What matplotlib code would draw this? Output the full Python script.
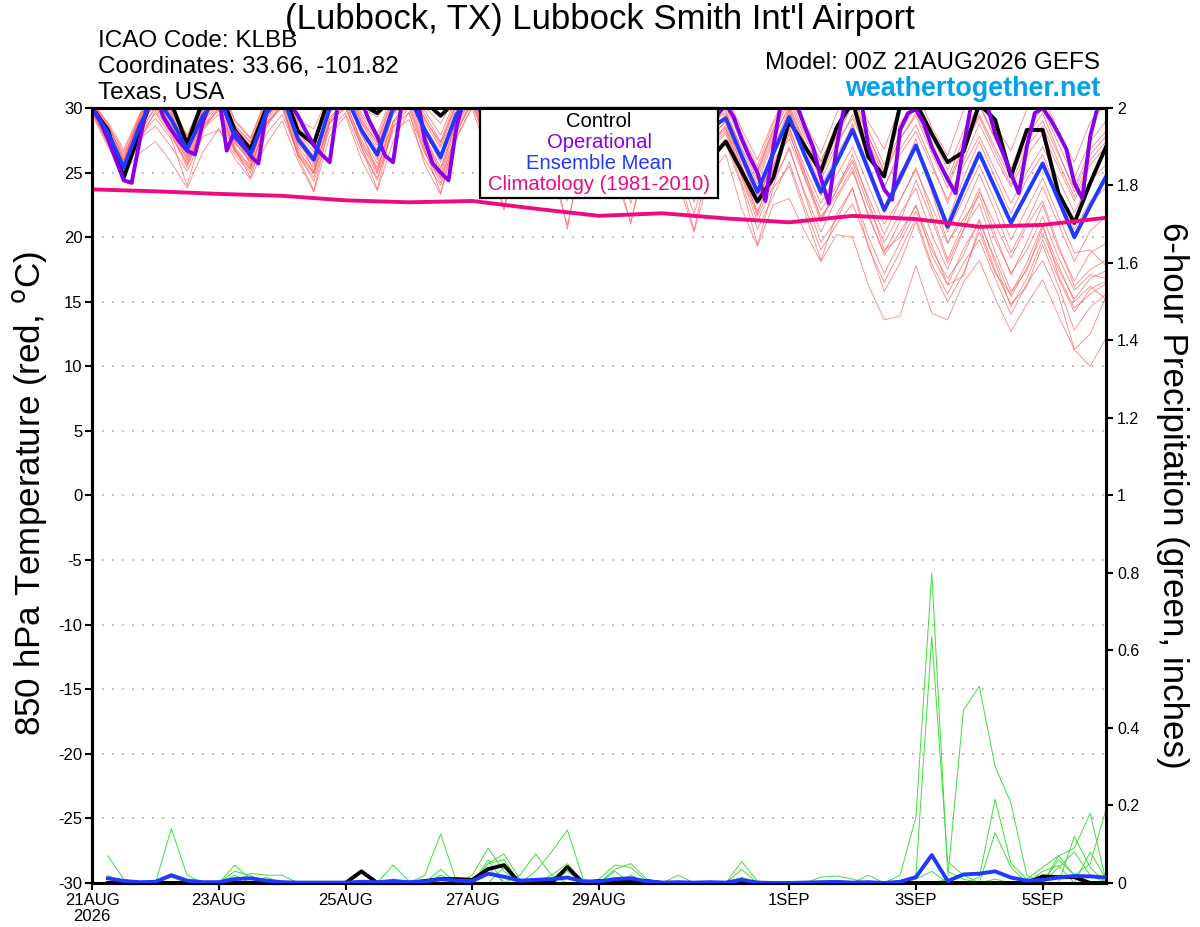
import matplotlib
matplotlib.use("Agg")
import matplotlib.pyplot as plt
from matplotlib.patches import Rectangle
import numpy as np

plt.rcParams['font.family'] = ['Liberation Sans', 'DejaVu Sans']

# forecast hours since 00Z 21AUG2026
hours = np.arange(65) * 6
oper_hours = np.arange(129) * 3
clim_hours = np.arange(17) * 24
precip_hours = np.arange(1, 65) * 6

tick_hours = [0, 48, 96, 144, 192, 264, 312, 360]
tick_labels = ['21AUG\n2026', '23AUG', '25AUG', '27AUG', '29AUG', '1SEP', '3SEP', '5SEP']

# 850 hPa temperature (C)
control_temp = [30.0, 28.3, 24.6, 28.1, 31.5, 30.4, 27.2, 30.6, 31.5, 28.3, 26.8, 30.0,
                31.5, 28.2, 27.2, 31.0, 32.0, 30.3, 29.6, 30.8, 32.0, 30.5, 29.4, 30.6,
                32.0, 29.5, 27.0, 30.0, 31.0, 28.5, 26.0, 29.0, 30.5, 27.5, 25.5, 28.5,
                29.8, 27.0, 25.0, 26.0, 27.4, 25.1, 22.75, 24.6, 29.0, 27.0, 25.1, 28.5,
                30.5, 26.2, 24.7, 30.2, 30.4, 28.0, 25.8, 26.6, 30.3, 29.1, 24.7, 28.3,
                28.3, 23.4, 21.1, 24.2, 27.0]

mean_temp = [30.0, 28.1, 25.4, 28.6, 31.0, 29.1, 26.8, 29.4, 31.0, 27.8, 26.4, 29.6,
             31.0, 27.6, 26.0, 30.0, 31.0, 28.3, 26.4, 30.0, 31.0, 28.3, 26.2, 29.5,
             31.0, 28.6, 26.3, 29.6, 30.8, 28.2, 25.8, 29.0, 30.5, 27.9, 25.6, 28.8,
             30.2, 27.6, 25.3, 28.4, 29.2, 26.3, 23.5, 26.5, 29.3, 26.3, 23.5, 25.8,
             28.3, 25.2, 22.1, 24.6, 27.1, 24.0, 20.8, 23.7, 26.5, 23.8, 21.1, 23.4,
             25.7, 22.9, 20.0, 22.4, 24.7]

oper_temp = [30.0, 29.0, 27.6, 26.0, 24.4, 24.2, 27.4, 30.4,
             31.0, 29.3, 28.3, 27.4, 26.7, 26.4, 28.9, 30.6,
             31.0, 26.7, 28.2, 27.3, 26.3, 25.7, 29.8, 31.0,
             31.5, 30.3, 29.4, 28.2, 27.1, 26.4, 25.8, 30.2,
             31.5, 31.5, 30.5, 29.0, 27.8, 26.3, 25.8, 30.0,
             31.5, 31.0, 27.5, 25.7, 25.0, 24.4, 28.5, 30.8,
             31.5, 30.5, 29.0, 27.5, 26.5, 25.8, 28.0, 30.5,
             31.5, 30.0, 28.5, 27.0, 26.0, 25.5, 27.5, 30.0,
             31.0, 30.0, 28.5, 27.2, 26.0, 25.4, 27.0, 29.5,
             31.0, 29.8, 28.2, 26.8, 25.8, 25.2, 27.0, 29.5,
             30.3, 29.3, 27.6, 26.2, 25.0, 22.8, 27.0, 30.5,
             31.0, 30.2, 28.5, 27.0, 24.6, 22.6, 27.0, 30.3,
             31.5, 31.0, 27.0, 25.3, 23.7, 22.9, 28.3, 29.6,
             29.9, 28.8, 27.0, 25.7, 24.5, 23.4, 27.0, 30.3,
             31.0, 30.2, 28.0, 26.5, 24.9, 23.4, 27.0, 29.6,
             30.0, 29.1, 28.0, 26.8, 24.2, 23.0, 27.8, 30.2,
             31.0]

clim_temp = [23.7, 23.55, 23.35, 23.2, 22.85, 22.7, 22.8, 22.2, 21.65,
             21.85, 21.45, 21.15, 21.65, 21.4, 20.8, 20.95, 21.5]

member_temp = [
    [30.2, 28.9, 26.8, 29.5, 31.8, 30.2, 27.9, 30.6, 32.0, 29.0, 27.6, 30.8, 32.2, 28.8, 27.5, 31.0,
     32.0, 29.6, 28.0, 31.2, 32.3, 29.8, 27.9, 30.9, 32.5, 30.0, 27.9, 31.0, 32.4, 29.9, 27.6, 30.8,
     32.0, 29.5, 27.3, 30.4, 31.8, 29.2, 27.1, 30.1, 31.0, 28.4, 26.0, 29.0, 31.5, 28.8, 26.5, 29.6,
     31.6, 28.9, 26.8, 30.2, 31.4, 28.5, 26.3, 29.8, 31.2, 28.6, 26.7, 29.9, 31.0, 28.2, 25.8, 28.9, 30.3],
    [29.8, 27.5, 24.4, 27.8, 29.2, 27.6, 24.0, 28.2, 30.1, 26.9, 24.6, 28.5, 30.4, 26.2, 23.6, 28.9,
     30.0, 27.0, 23.7, 28.8, 30.2, 26.8, 23.4, 28.4, 30.5, 27.3, 22.2, 28.5, 29.8, 26.5, 20.6, 27.4,
     29.3, 25.8, 21.0, 27.0, 28.9, 25.1, 20.5, 26.4, 27.2, 24.0, 19.4, 23.8, 25.5, 21.9, 18.2, 21.8,
     23.8, 19.2, 16.5, 18.9, 21.5, 17.9, 15.6, 18.0, 19.8, 16.8, 14.0, 16.4, 18.2, 15.5, 11.3, 10.0, 12.2],
    [29.5, 27.0, 25.0, 26.5, 27.4, 25.8, 23.8, 26.6, 28.4, 26.1, 24.5, 27.2, 29.0, 25.9, 23.5, 27.8,
     29.4, 26.0, 23.6, 27.4, 29.7, 25.6, 23.3, 27.8, 30.0, 26.2, 22.1, 27.0, 29.3, 25.2, 20.9, 26.5,
     28.6, 24.7, 21.2, 25.8, 28.0, 24.2, 20.4, 24.9, 26.4, 22.2, 19.3, 22.5, 23.0, 20.4, 18.1, 20.2,
     20.0, 16.3, 13.6, 13.9, 17.8, 14.1, 13.6, 16.5, 18.2, 15.3, 12.7, 14.8, 16.7, 13.9, 11.3, 12.5, 15.4],
    [30.5, 28.4, 25.8, 29.0, 31.2, 29.5, 27.0, 29.8, 31.4, 28.2, 26.8, 30.0, 31.5, 28.0, 26.2, 30.4,
     31.4, 28.8, 26.8, 30.3, 31.6, 28.6, 26.5, 29.8, 31.3, 28.9, 26.6, 29.9, 31.0, 28.5, 26.2, 29.4,
     30.8, 28.1, 25.9, 29.1, 30.5, 27.8, 25.5, 28.6, 29.8, 26.8, 24.1, 27.5, 30.2, 27.3, 24.4, 27.0,
     29.5, 26.6, 23.8, 26.8, 28.7, 25.8, 22.6, 25.9, 28.8, 26.2, 23.9, 26.3, 28.0, 25.4, 22.8, 25.6, 27.0],
    [30.0, 27.8, 25.0, 28.2, 30.6, 28.7, 26.2, 28.9, 30.8, 27.4, 25.9, 29.2, 30.9, 27.0, 25.4, 29.6,
     31.0, 27.9, 25.7, 29.5, 30.8, 27.7, 25.4, 29.0, 31.1, 28.1, 25.5, 29.1, 30.5, 27.6, 24.8, 28.4,
     30.0, 27.2, 24.5, 28.0, 29.6, 26.8, 24.0, 27.6, 28.5, 25.0, 22.0, 24.8, 28.0, 24.9, 22.1, 24.0,
     26.0, 23.1, 20.2, 22.8, 25.4, 21.8, 18.3, 21.0, 23.8, 20.2, 17.1, 19.6, 22.5, 19.1, 16.6, 18.8, 19.5],
    [30.3, 28.6, 26.2, 29.2, 31.5, 29.8, 27.4, 30.1, 31.2, 28.5, 27.1, 30.3, 31.8, 28.4, 26.9, 30.7,
     31.7, 29.2, 27.3, 30.8, 31.9, 29.2, 27.1, 30.4, 31.8, 29.4, 27.2, 30.5, 31.6, 29.1, 26.9, 30.1,
     31.3, 28.8, 26.6, 29.8, 31.0, 28.5, 26.3, 29.4, 30.4, 27.6, 25.1, 28.3, 30.8, 28.0, 25.3, 27.9,
     30.4, 27.8, 25.0, 27.6, 29.6, 26.9, 24.2, 27.0, 29.5, 26.9, 24.6, 27.4, 29.0, 26.4, 23.8, 26.8, 28.2],
    [29.9, 27.4, 24.8, 27.6, 28.6, 27.0, 25.1, 27.8, 28.3, 26.4, 25.0, 28.0, 29.5, 26.5, 24.3, 28.4,
     29.6, 26.6, 24.6, 28.2, 29.1, 26.0, 24.0, 27.6, 30.2, 27.0, 24.2, 28.1, 30.1, 26.9, 23.8, 27.8,
     29.8, 26.5, 23.4, 27.5, 29.5, 26.2, 23.1, 27.0, 28.7, 25.5, 22.6, 26.0, 27.6, 24.5, 21.2, 23.7,
     25.8, 22.4, 19.6, 21.8, 23.8, 20.2, 17.5, 20.5, 23.5, 21.0, 18.4, 20.9, 22.8, 19.4, 16.2, 17.5, 18.2],
    [30.6, 28.8, 26.0, 29.4, 32.0, 30.0, 27.8, 30.4, 32.3, 29.1, 27.7, 30.6, 32.4, 29.0, 28.4, 31.2,
     32.5, 30.0, 29.3, 31.3, 32.6, 30.1, 28.8, 31.1, 32.4, 29.8, 27.5, 30.8, 32.0, 29.4, 27.0, 30.2,
     31.5, 28.9, 26.8, 29.8, 31.2, 28.6, 26.4, 29.5, 30.6, 27.8, 25.2, 28.4, 31.2, 28.5, 25.8, 28.6,
     30.8, 27.8, 25.1, 28.1, 30.2, 27.1, 24.5, 27.6, 30.4, 27.6, 25.0, 27.8, 29.6, 26.6, 23.5, 26.4, 27.8],
    [30.1, 28.0, 25.6, 28.7, 30.8, 29.0, 26.6, 29.3, 30.6, 27.6, 26.0, 29.4, 31.0, 27.2, 25.8, 29.9,
     31.2, 28.4, 26.2, 29.9, 31.0, 28.2, 26.0, 29.3, 31.3, 28.5, 25.9, 29.3, 30.7, 27.9, 25.2, 28.6,
     30.1, 27.4, 24.9, 28.2, 29.8, 27.0, 24.6, 27.8, 28.9, 25.9, 23.0, 25.6, 28.4, 25.4, 22.6, 24.8,
     27.0, 24.0, 21.0, 22.9, 25.2, 22.4, 19.5, 22.0, 24.9, 22.0, 18.8, 21.2, 23.9, 21.0, 18.1, 20.5, 21.6],
    [30.4, 28.3, 25.3, 28.5, 31.4, 29.6, 26.9, 29.9, 31.8, 28.0, 25.6, 29.7, 31.6, 27.8, 25.1, 30.2,
     31.3, 28.2, 25.0, 29.6, 31.4, 28.0, 24.8, 29.2, 31.6, 28.4, 25.0, 29.4, 31.0, 27.8, 24.4, 28.8,
     30.6, 27.2, 23.8, 28.3, 30.2, 26.8, 23.2, 27.8, 29.4, 26.0, 22.8, 26.2, 29.8, 26.4, 23.2, 25.6,
     28.8, 25.4, 22.2, 24.8, 27.6, 23.5, 19.6, 21.4, 23.2, 19.8, 17.2, 19.0, 21.6, 18.4, 15.9, 17.1, 16.8],
    [29.7, 27.2, 24.6, 27.4, 29.8, 28.0, 25.4, 28.4, 29.5, 26.6, 25.2, 28.7, 30.2, 26.4, 24.9, 29.1,
     30.6, 27.3, 25.2, 29.0, 30.4, 27.0, 24.6, 28.6, 30.8, 27.6, 24.4, 28.7, 30.3, 27.1, 23.5, 28.0,
     29.9, 26.6, 23.2, 27.6, 29.3, 26.0, 22.7, 27.0, 28.2, 24.8, 21.6, 24.4, 26.8, 23.4, 20.4, 23.0,
     25.1, 21.8, 18.6, 20.4, 22.4, 19.4, 16.3, 19.1, 21.2, 18.3, 15.4, 17.6, 20.3, 17.5, 15.2, 16.8, 17.4],
    [30.0, 28.5, 26.4, 29.0, 31.0, 29.3, 27.2, 29.6, 31.3, 28.3, 26.9, 29.9, 31.3, 28.1, 26.6, 30.0,
     31.5, 28.9, 27.1, 30.3, 31.3, 28.9, 26.9, 30.1, 31.5, 29.0, 26.8, 30.0, 31.2, 28.7, 26.4, 29.6,
     30.9, 28.4, 26.2, 29.3, 30.6, 28.0, 25.8, 28.9, 29.6, 26.9, 24.5, 27.8, 30.0, 27.2, 24.8, 27.4,
     29.2, 26.5, 23.9, 26.4, 28.2, 25.5, 22.9, 25.5, 27.8, 25.2, 22.6, 25.0, 27.0, 24.5, 21.9, 24.4, 25.6],
    [29.8, 27.6, 25.2, 28.0, 30.2, 28.4, 25.9, 28.6, 30.2, 27.0, 25.4, 29.0, 30.6, 26.8, 25.0, 29.3,
     30.4, 27.5, 25.4, 28.9, 30.6, 27.4, 25.2, 28.8, 30.9, 27.8, 25.1, 28.8, 30.4, 27.2, 24.2, 28.2,
     29.7, 26.6, 23.8, 27.8, 29.4, 26.2, 23.5, 27.2, 28.4, 25.2, 21.8, 25.4, 28.6, 25.0, 21.4, 23.6,
     26.4, 22.8, 19.0, 20.0, 22.5, 18.6, 16.3, 17.0, 20.8, 17.4, 14.8, 16.2, 19.4, 16.2, 12.8, 14.6, 15.6],
    [30.2, 28.2, 25.5, 28.8, 30.9, 29.2, 26.4, 29.2, 30.9, 27.8, 26.1, 29.5, 31.2, 27.5, 25.6, 29.8,
     31.1, 28.3, 26.0, 29.7, 31.1, 28.2, 25.8, 29.4, 31.4, 28.6, 25.7, 29.5, 31.1, 28.1, 25.2, 29.0,
     30.7, 27.8, 25.0, 28.7, 30.3, 27.4, 24.6, 28.3, 29.5, 26.5, 23.6, 26.9, 29.9, 26.9, 23.9, 26.3,
     28.6, 25.6, 22.4, 25.0, 26.8, 23.6, 20.4, 23.0, 25.6, 22.8, 19.8, 22.2, 24.6, 21.6, 18.8, 19.0, 17.8],
    [30.1, 28.1, 25.9, 28.9, 30.4, 28.6, 26.0, 29.0, 30.3, 27.3, 25.8, 29.2, 30.8, 27.3, 26.0, 29.7,
     31.0, 28.1, 26.2, 29.6, 31.0, 28.0, 26.1, 29.1, 31.1, 28.2, 25.6, 29.1, 30.6, 27.5, 24.6, 28.5,
     30.1, 27.0, 24.2, 28.0, 29.9, 26.8, 24.0, 27.6, 29.0, 25.5, 22.7, 25.2, 28.2, 24.6, 21.6, 23.2,
     25.4, 21.6, 18.8, 21.2, 24.4, 21.4, 18.0, 20.6, 22.6, 18.8, 15.8, 17.4, 20.8, 17.8, 15.0, 16.2, 15.2],
    [30.3, 28.4, 26.0, 29.1, 31.6, 29.9, 27.6, 30.3, 31.7, 28.7, 27.3, 30.5, 32.0, 28.6, 27.1, 30.9,
     31.9, 29.4, 27.6, 31.0, 32.0, 29.5, 27.4, 30.7, 32.0, 29.6, 27.3, 30.7, 31.8, 29.3, 27.0, 30.3,
     31.5, 29.0, 26.8, 30.0, 31.3, 28.8, 26.5, 29.7, 30.7, 28.0, 25.5, 28.8, 31.0, 28.4, 25.9, 28.6,
     30.9, 28.3, 25.6, 28.8, 30.4, 27.8, 25.2, 28.2, 30.2, 27.6, 25.3, 28.3, 30.0, 27.2, 24.6, 27.4, 29.0],
    [29.9, 27.7, 25.1, 28.1, 30.0, 28.2, 25.6, 28.5, 29.9, 26.8, 25.5, 28.8, 30.3, 26.6, 25.0, 29.0,
     30.2, 27.2, 24.9, 28.6, 29.6, 26.5, 24.5, 28.0, 30.6, 27.5, 24.8, 28.6, 30.2, 27.0, 24.0, 28.0,
     29.6, 26.5, 23.6, 27.5, 29.2, 26.0, 23.0, 26.8, 28.0, 24.6, 21.2, 24.0, 27.0, 23.2, 19.6, 21.4,
     23.8, 20.0, 17.2, 19.6, 22.0, 19.0, 16.8, 18.6, 21.4, 18.0, 14.6, 16.8, 19.8, 16.8, 14.2, 16.0, 16.6],
    [30.5, 28.7, 26.6, 29.3, 31.3, 29.7, 27.5, 30.0, 31.5, 28.6, 27.4, 30.2, 31.7, 28.3, 27.2, 30.6,
     31.8, 29.0, 27.4, 30.6, 31.7, 29.1, 27.3, 30.3, 31.9, 29.2, 27.1, 30.3, 31.5, 28.9, 26.7, 29.9,
     31.1, 28.6, 26.4, 29.6, 30.8, 28.3, 26.1, 29.2, 30.1, 27.4, 24.9, 28.1, 30.5, 27.7, 25.1, 27.8,
     30.2, 27.4, 24.7, 27.6, 29.4, 26.5, 23.8, 26.9, 29.3, 26.6, 24.1, 27.0, 28.6, 25.8, 23.1, 26.0, 27.4],
    [29.6, 27.3, 24.9, 27.9, 29.6, 27.8, 25.7, 28.6, 29.8, 26.7, 25.3, 28.8, 30.0, 26.3, 24.6, 28.8,
     30.1, 27.0, 24.4, 28.5, 30.0, 26.6, 24.2, 28.2, 30.4, 27.1, 23.6, 28.0, 29.9, 26.4, 22.8, 27.3,
     29.3, 25.9, 22.6, 26.7, 28.6, 25.2, 21.8, 26.1, 27.6, 24.2, 20.6, 23.2, 25.8, 22.3, 19.0, 21.0,
     22.6, 19.4, 15.8, 18.0, 21.2, 17.6, 15.0, 17.2, 20.4, 17.2, 15.6, 18.0, 21.0, 17.0, 14.5, 15.6, 16.4],
    [30.2, 28.0, 25.7, 28.6, 30.6, 28.9, 26.4, 29.1, 30.7, 27.5, 26.2, 29.3, 31.1, 27.4, 25.9, 29.8,
     31.0, 28.0, 26.4, 29.8, 31.2, 28.1, 26.0, 29.6, 31.3, 28.4, 26.1, 29.6, 30.9, 28.0, 25.7, 29.2,
     30.6, 27.7, 25.4, 28.9, 30.2, 27.3, 25.0, 28.5, 29.3, 26.2, 23.2, 26.4, 29.6, 26.4, 23.4, 25.7,
     28.4, 25.1, 21.9, 24.2, 27.0, 24.0, 21.2, 24.6, 27.4, 24.6, 21.8, 24.5, 26.4, 23.4, 20.6, 22.8, 23.8],
]

# 6-hour precipitation (inches), valid at 06h .. 384h
control_precip = [0, 0, 0, 0, 0, 0, 0, 0, 0, 0, 0, 0, 0, 0, 0, 0,
                  0.03, 0, 0, 0, 0.005, 0.01, 0.01, 0.008, 0.036, 0.046, 0, 0, 0, 0.041, 0, 0.005,
                  0.005, 0.005, 0.005, 0, 0, 0, 0, 0, 0, 0, 0, 0, 0, 0, 0, 0,
                  0, 0, 0, 0, 0, 0, 0, 0, 0, 0, 0, 0.017, 0.015, 0.015, 0, 0]

mean_precip = [0.012, 0.005, 0.002, 0.003, 0.02, 0.006, 0.002, 0.002, 0.01, 0.012, 0.006, 0.002, 0.001, 0.001, 0.001, 0.001,
               0.003, 0.002, 0.005, 0.002, 0.004, 0.01, 0.006, 0.005, 0.024, 0.016, 0.006, 0.008, 0.01, 0.014, 0.004, 0.004,
               0.01, 0.012, 0.004, 0.001, 0.002, 0.001, 0.002, 0.001, 0.008, 0.001, 0, 0, 0.001, 0.002, 0.003, 0.001,
               0.002, 0, 0.003, 0.015, 0.072, 0.005, 0.022, 0.024, 0.03, 0.014, 0.006, 0.008, 0.014, 0.018, 0.017, 0.014]

member_precip = [
    [0.07, 0.01, 0, 0, 0, 0, 0, 0, 0, 0, 0, 0, 0, 0, 0, 0,
     0, 0, 0, 0, 0, 0, 0, 0, 0, 0, 0, 0, 0, 0, 0, 0,
     0, 0, 0, 0, 0.02, 0, 0, 0, 0, 0, 0, 0, 0, 0, 0, 0,
     0, 0, 0, 0, 0, 0, 0, 0, 0.13, 0.04, 0, 0, 0, 0, 0, 0],
    [0, 0, 0, 0, 0.14, 0.02, 0, 0, 0, 0, 0, 0, 0, 0, 0, 0,
     0, 0, 0, 0, 0, 0, 0, 0, 0, 0, 0, 0, 0, 0, 0, 0,
     0, 0, 0, 0, 0, 0, 0, 0, 0, 0, 0, 0, 0, 0, 0, 0,
     0, 0, 0, 0, 0, 0, 0, 0, 0, 0, 0.01, 0.04, 0.07, 0.09, 0.18, 0.005],
    [0.02, 0, 0, 0, 0.02, 0, 0, 0, 0.02, 0, 0, 0, 0, 0, 0, 0,
     0, 0, 0, 0, 0, 0.02, 0, 0, 0, 0, 0, 0, 0, 0, 0, 0,
     0, 0, 0, 0, 0, 0, 0, 0, 0, 0, 0, 0, 0, 0, 0, 0,
     0, 0, 0, 0, 0, 0, 0, 0, 0, 0, 0, 0, 0.06, 0.02, 0.05, 0.19],
    [0, 0, 0, 0, 0.015, 0, 0, 0, 0.03, 0.02, 0, 0, 0, 0, 0, 0,
     0, 0, 0, 0, 0, 0, 0, 0, 0.05, 0.06, 0, 0, 0, 0, 0, 0,
     0, 0, 0, 0, 0, 0, 0, 0, 0, 0, 0, 0, 0, 0, 0, 0,
     0, 0, 0, 0, 0, 0, 0, 0, 0, 0, 0, 0, 0, 0.12, 0.04, 0],
    [0, 0, 0, 0, 0, 0, 0, 0, 0.046, 0.01, 0, 0, 0, 0, 0, 0,
     0, 0, 0, 0, 0, 0, 0, 0, 0, 0, 0, 0, 0, 0, 0, 0,
     0, 0, 0, 0, 0, 0, 0, 0, 0.055, 0.005, 0, 0, 0, 0, 0, 0,
     0, 0, 0, 0, 0, 0, 0, 0, 0, 0, 0, 0, 0.07, 0.02, 0, 0],
    [0, 0, 0, 0, 0, 0, 0, 0, 0, 0.025, 0.02, 0.02, 0, 0, 0, 0,
     0, 0, 0, 0, 0, 0, 0, 0, 0, 0, 0, 0, 0, 0, 0, 0,
     0, 0, 0, 0, 0, 0, 0, 0, 0.035, 0, 0, 0, 0, 0, 0, 0,
     0, 0, 0, 0, 0, 0, 0, 0, 0, 0, 0, 0, 0, 0, 0.08, 0.01],
    [0, 0, 0, 0, 0, 0, 0, 0, 0, 0, 0.015, 0, 0, 0, 0, 0,
     0, 0, 0.01, 0, 0, 0, 0, 0, 0.04, 0, 0, 0, 0, 0.03, 0, 0,
     0, 0, 0, 0, 0, 0, 0, 0, 0.015, 0, 0, 0, 0, 0, 0, 0,
     0, 0, 0, 0, 0, 0, 0, 0, 0, 0, 0, 0.03, 0.045, 0, 0, 0],
    [0, 0, 0, 0, 0, 0, 0, 0, 0, 0, 0, 0, 0, 0, 0, 0,
     0, 0, 0.046, 0.005, 0, 0, 0, 0, 0, 0.04, 0, 0, 0.02, 0, 0, 0,
     0, 0.02, 0, 0, 0, 0, 0, 0, 0, 0, 0, 0, 0, 0, 0, 0,
     0, 0, 0, 0, 0, 0, 0, 0, 0, 0, 0, 0, 0, 0, 0, 0],
    [0, 0, 0, 0, 0, 0, 0, 0, 0, 0, 0, 0, 0, 0, 0, 0,
     0, 0, 0, 0, 0.02, 0.126, 0.005, 0, 0, 0, 0, 0, 0, 0, 0, 0,
     0, 0, 0, 0, 0, 0, 0, 0, 0, 0, 0, 0, 0, 0, 0, 0,
     0, 0, 0, 0, 0, 0, 0, 0, 0.01, 0, 0, 0, 0, 0, 0, 0],
    [0, 0, 0, 0, 0, 0, 0, 0, 0, 0, 0, 0, 0, 0, 0, 0,
     0, 0, 0, 0, 0, 0.035, 0, 0, 0.06, 0, 0, 0, 0, 0, 0, 0,
     0, 0, 0, 0, 0, 0, 0, 0, 0, 0, 0, 0, 0, 0.015, 0.018, 0.01,
     0, 0, 0, 0, 0, 0, 0, 0, 0, 0, 0, 0, 0, 0, 0, 0],
    [0, 0, 0, 0, 0, 0, 0, 0, 0, 0, 0, 0, 0, 0, 0, 0,
     0, 0, 0, 0, 0, 0, 0, 0.02, 0.09, 0.03, 0, 0, 0, 0, 0, 0,
     0, 0, 0, 0, 0, 0, 0, 0, 0, 0, 0, 0, 0, 0, 0, 0,
     0.02, 0, 0, 0, 0, 0, 0, 0, 0, 0, 0, 0, 0, 0, 0, 0],
    [0, 0, 0, 0, 0, 0, 0, 0, 0, 0, 0, 0, 0, 0, 0, 0,
     0, 0, 0, 0, 0, 0, 0, 0, 0.05, 0.075, 0.01, 0, 0, 0, 0, 0,
     0.03, 0, 0, 0, 0, 0, 0, 0, 0, 0, 0, 0, 0, 0, 0, 0,
     0, 0, 0, 0, 0, 0, 0, 0, 0, 0, 0, 0, 0, 0, 0, 0],
    [0, 0, 0, 0, 0, 0, 0, 0, 0, 0, 0, 0, 0, 0, 0, 0,
     0, 0, 0, 0, 0, 0, 0, 0, 0, 0, 0.02, 0.075, 0.02, 0.05, 0, 0,
     0, 0, 0, 0, 0, 0, 0, 0, 0, 0, 0, 0, 0, 0, 0, 0,
     0, 0, 0, 0, 0, 0, 0, 0, 0, 0, 0, 0, 0, 0, 0, 0],
    [0, 0, 0, 0, 0, 0, 0, 0, 0, 0, 0, 0, 0, 0, 0, 0,
     0, 0, 0, 0, 0, 0, 0, 0, 0, 0, 0, 0.03, 0.08, 0.137, 0.01, 0,
     0, 0, 0, 0, 0, 0, 0, 0, 0, 0, 0, 0, 0, 0, 0, 0,
     0, 0, 0, 0, 0, 0, 0, 0, 0, 0, 0, 0, 0, 0, 0, 0],
    [0, 0, 0, 0, 0, 0, 0, 0, 0, 0, 0, 0, 0, 0, 0, 0,
     0, 0, 0, 0, 0, 0, 0, 0, 0, 0, 0, 0, 0, 0, 0, 0.01,
     0.046, 0.04, 0.005, 0, 0, 0, 0, 0, 0, 0, 0, 0, 0, 0, 0, 0,
     0, 0, 0, 0, 0, 0, 0, 0, 0, 0, 0, 0, 0, 0, 0, 0],
    [0, 0, 0, 0, 0, 0, 0, 0, 0, 0, 0, 0, 0, 0, 0, 0,
     0, 0, 0, 0, 0, 0, 0, 0, 0, 0, 0, 0, 0, 0, 0, 0,
     0.035, 0.05, 0.01, 0, 0, 0, 0, 0, 0, 0, 0, 0, 0, 0, 0, 0,
     0, 0, 0, 0.01, 0.03, 0, 0, 0, 0, 0, 0, 0, 0, 0, 0, 0],
    [0, 0, 0, 0, 0, 0, 0, 0, 0, 0, 0, 0, 0, 0, 0, 0,
     0, 0, 0, 0, 0, 0, 0, 0, 0, 0, 0, 0, 0, 0, 0, 0,
     0, 0, 0, 0, 0, 0, 0, 0, 0, 0, 0, 0, 0, 0, 0, 0,
     0, 0, 0.02, 0.17, 0.80, 0.03, 0.01, 0, 0, 0, 0, 0, 0, 0, 0, 0],
    [0, 0, 0, 0, 0, 0, 0, 0, 0, 0, 0, 0, 0, 0, 0, 0,
     0, 0, 0, 0, 0, 0, 0, 0, 0, 0, 0, 0, 0, 0, 0, 0,
     0, 0, 0, 0, 0, 0, 0, 0, 0, 0, 0, 0, 0, 0, 0, 0,
     0, 0, 0, 0.02, 0.636, 0.055, 0.02, 0, 0, 0, 0, 0, 0, 0, 0, 0],
    [0, 0, 0, 0, 0, 0, 0, 0, 0, 0, 0, 0, 0, 0, 0, 0,
     0, 0, 0, 0, 0, 0, 0, 0, 0, 0, 0, 0, 0, 0, 0, 0,
     0, 0, 0, 0, 0, 0, 0, 0, 0, 0, 0, 0, 0, 0, 0, 0,
     0, 0, 0, 0, 0, 0.01, 0.446, 0.508, 0.30, 0.206, 0.02, 0, 0, 0, 0, 0],
    [0, 0, 0, 0, 0, 0, 0, 0, 0, 0, 0, 0, 0, 0, 0, 0,
     0, 0, 0, 0, 0, 0, 0, 0, 0, 0, 0, 0, 0, 0, 0, 0,
     0, 0, 0, 0, 0, 0, 0, 0, 0, 0, 0, 0, 0, 0, 0, 0,
     0, 0, 0, 0, 0, 0, 0, 0.015, 0.216, 0.05, 0.01, 0, 0.04, 0.08, 0.02, 0],
]

RED = '#ff5a5a'
GREEN = '#3ce03c'
PURPLE = '#8a00e6'
BLUE = '#2038ff'
MAGENTA = '#ee0a80'

fig = plt.figure(figsize=(12, 9.27), dpi=100)
ax = fig.add_axes([0.0767, 0.0475, 0.8450, 0.8360])
ax2 = ax.twinx()

# temperature
for row in member_temp:
    ax.plot(hours, row, color=RED, lw=0.6, alpha=0.75, zorder=2)
ax.plot(hours, control_temp, color='black', lw=2.8, zorder=4)
ax.plot(oper_hours, oper_temp, color=PURPLE, lw=2.8, zorder=5)
ax.plot(hours, mean_temp, color=BLUE, lw=2.8, zorder=6)
ax.plot(clim_hours, clim_temp, color=MAGENTA, lw=2.8, zorder=7)

# precipitation
for row in member_precip:
    ax2.plot(precip_hours, row, color=GREEN, lw=0.7, zorder=2)
ax2.plot(precip_hours, control_precip, color='black', lw=2.8, zorder=4)
ax2.plot(precip_hours, mean_precip, color=BLUE, lw=2.8, zorder=5)

ax.set_xlim(0, 384)
ax.set_ylim(-30, 30)
ax2.set_ylim(0, 2)
ax.set_yticks(np.arange(-30, 31, 5))
ax.set_yticklabels([str(v) for v in range(-30, 31, 5)])
ax2.set_yticks(np.arange(0, 2.01, 0.2))
ax2.set_yticklabels(['0', '0.2', '0.4', '0.6', '0.8', '1', '1.2', '1.4', '1.6', '1.8', '2'])
ax.set_xticks(tick_hours)
ax.set_xticklabels(tick_labels, linespacing=1.1)

for v in range(-25, 30, 5):
    ax.axhline(v, color='#a8a8a8', lw=1.2, ls=(0, (1, 5)), zorder=1)

for a in (ax, ax2):
    for s in a.spines.values():
        s.set_linewidth(2.2)
        s.set_color('black')
ax.tick_params(axis='y', labelsize=12, length=5, width=1.5, pad=2, direction='out')
ax.tick_params(axis='x', labelsize=12, length=5, width=1.5, pad=2, direction='out')
ax2.tick_params(axis='y', labelsize=11.5, length=5, width=1.5, pad=3, direction='out')

# legend box
ax.add_patch(Rectangle((0.3826, 0.8839), 0.2348, 0.1161, transform=ax.transAxes,
                       facecolor='white', edgecolor='black', lw=1.6, zorder=10, clip_on=False))
legend_items = [('Control', 'black'), ('Operational', PURPLE),
                ('Ensemble Mean', BLUE), ('Climatology (1981-2010)', MAGENTA)]
for k, (txt, col) in enumerate(legend_items):
    ax.text(0.5, 0.9832 - k * 0.0275, txt, color=col, fontsize=14.6, ha='center', va='center',
            transform=ax.transAxes, zorder=11)

fig.text(0.5, 0.979, "(Lubbock, TX) Lubbock Smith Int'l Airport", fontsize=25,
         ha='center', va='center')
fig.text(0.0817, 0.956, 'ICAO Code: KLBB', fontsize=17.5, ha='left', va='center')
fig.text(0.0817, 0.928, 'Coordinates: 33.66, -101.82', fontsize=17.5, ha='left', va='center')
fig.text(0.0817, 0.900, 'Texas, USA', fontsize=17.5, ha='left', va='center')
fig.text(0.917, 0.932, 'Model: 00Z 21AUG2026 GEFS', fontsize=17.5, ha='right', va='center')
fig.text(0.917, 0.904, 'weathertogether.net', fontsize=19.4, fontweight='bold',
         color='#00a0f0', ha='right', va='center')

fig.text(0.025, 0.468, r'850 hPa Temperature (red, $^{\mathrm{o}}$C)', fontsize=25.2,
         rotation=90, ha='center', va='center')
fig.text(0.977, 0.466, '6-hour Precipitation (green, inches)', fontsize=25.2,
         rotation=270, ha='center', va='center')

fig.savefig('out.png', dpi=100)
